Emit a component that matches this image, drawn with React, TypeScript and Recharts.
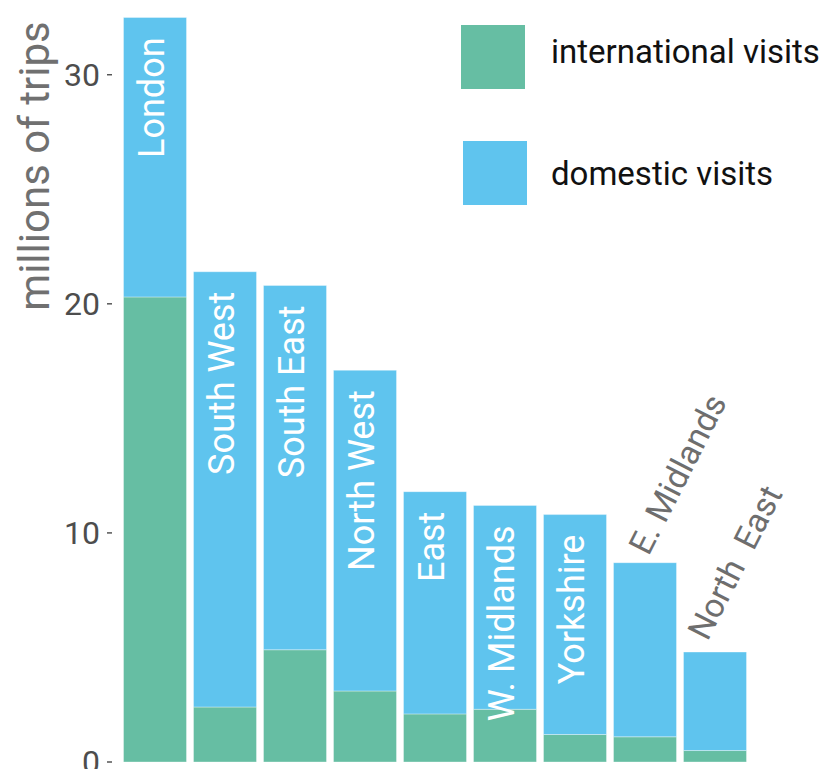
import { BarChart, Bar, XAxis, YAxis, LabelList } from "recharts";

const regions = ["London", "South West", "South East", "North West", "East", "W. Midlands", "Yorkshire", "E. Midlands", "North East"];
const international = [20.3, 2.4, 4.9, 3.1, 2.1, 2.3, 1.2, 1.1, 0.5];
const domestic = [12.2, 19.0, 15.9, 14.0, 9.7, 8.9, 9.6, 7.6, 4.3];
const yTicks = [0, 10, 20, 30];
const legendItems = ["international visits", "domestic visits"];

const GREEN = "#66bea3";
const BLUE = "#5fc4ee";
const FONT = "Roboto, sans-serif";

const data = regions.map((region, i) => ({
  region,
  international: international[i],
  domestic: domestic[i],
}));

// y tick: number plus a small dash, like the original
const YTick = (props: any) => {
  const { y, payload } = props;
  return (
    <g>
      <text x={100} y={y} textAnchor="end" dominantBaseline="central" fontSize={32} fill="#4d4d4d" fontFamily={FONT}>
        {payload.value}
      </text>
      <line x1={107} x2={112} y1={y} y2={y} stroke="#555" strokeWidth={1.5} />
    </g>
  );
};

const RegionLabel = (props: any) => {
  const { x, y, width, index } = props;
  const name = regions[index];
  const total = international[index] + domestic[index];
  const cx = x + width / 2;
  if (total < 10) {
    // short bars: label sits above the bar, tilted
    const ne = name === "North East";
    const sx = ne ? cx - 7.5 : cx + 3.5;
    const sy = ne ? y - 10 : y - 6;
    return (
      <text
        x={sx}
        y={sy}
        transform={`rotate(-63, ${sx}, ${sy})`}
        textAnchor="start"
        fontSize={33.5}
        fill="#6e6e6e"
        fontFamily={FONT}
        style={{ whiteSpace: "pre" }}
      >
        {ne ? "North  East" : name}
      </text>
    );
  }
  const tx = cx + 9.5;
  const ty = y + 20;
  return (
    <text x={tx} y={ty} transform={`rotate(-90, ${tx}, ${ty})`} textAnchor="end" fontSize={36} fill="#fff" fontFamily={FONT}>
      {name}
    </text>
  );
};

export default function App() {
  return (
    <div style={{ position: "absolute", left: 0, top: 0, width: 824, height: 769, fontFamily: FONT }}>
      <BarChart width={824} height={769} data={data} margin={{ top: 6, right: 74.5, bottom: 7, left: 0 }}>
        <XAxis dataKey="region" hide />
        <YAxis
          width={119.5}
          domain={[0, 33]}
          ticks={yTicks}
          interval={0}
          axisLine={false}
          tickLine={false}
          tick={<YTick />}
          label={{
            value: "millions of trips",
            content: () => (
              <text x={34} y={166} transform="rotate(-90, 34, 166)" textAnchor="middle" dominantBaseline="central" fontSize={42} fill="#707070" fontFamily={FONT}>
                millions of trips
              </text>
            ),
          }}
        />
        <Bar dataKey="international" stackId="a" fill={GREEN} stroke="#fff" strokeOpacity={0.35} barSize={63} isAnimationActive={false} />
        <Bar dataKey="domestic" stackId="a" fill={BLUE} stroke="#fff" strokeOpacity={0.35} barSize={63} isAnimationActive={false}>
          <LabelList dataKey="region" content={<RegionLabel />} />
        </Bar>
      </BarChart>
      <div style={{ position: "absolute", left: 461, top: 25, width: 64, height: 64, background: GREEN }} />
      <div style={{ position: "absolute", left: 463, top: 141, width: 64, height: 64, background: BLUE }} />
      {legendItems.map((label, i) => (
        <div
          key={label}
          style={{ position: "absolute", left: 551, top: i === 0 ? 35 : 157, fontSize: 33, lineHeight: "33px", color: "#111", whiteSpace: "nowrap" }}
        >
          {label}
        </div>
      ))}
    </div>
  );
}
